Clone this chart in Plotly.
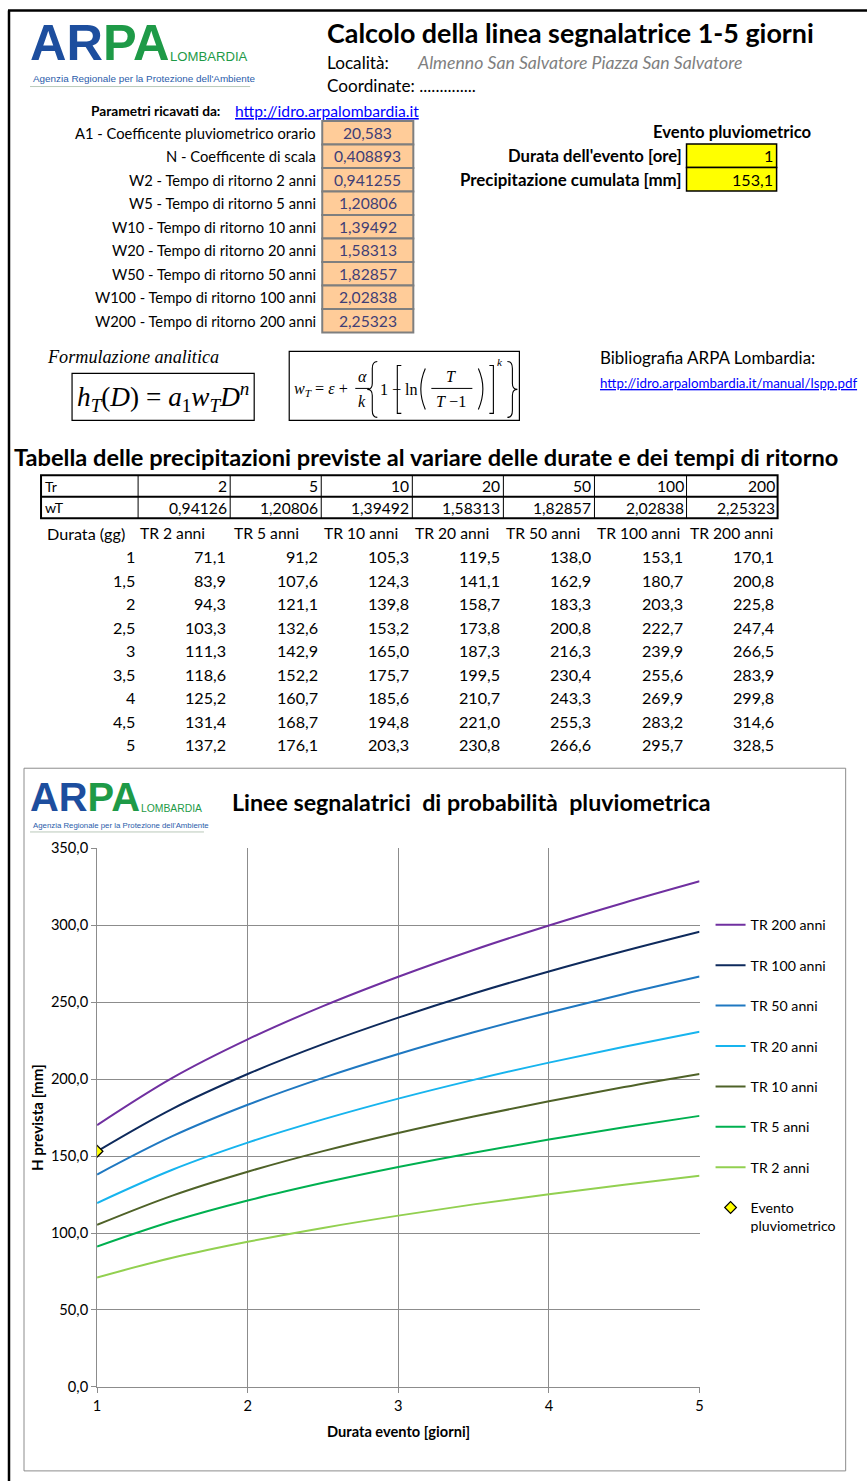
import plotly.graph_objects as go

W, H = 867, 1481
# measured capture mapping (page px -> picture px): out = S*page + O
SX, OX = 0.990, 4.0
SY, OY = 0.989, 8.4
FS = 1 / 0.99

# ---------------- DATA ----------------
durations = [1, 1.5, 2, 2.5, 3, 3.5, 4, 4.5, 5]
tr_years = [2, 5, 10, 20, 50, 100, 200]
wt_values = [0.94126, 1.20806, 1.39492, 1.58313, 1.82857, 2.02838, 2.25323]
h_tr2 = [71.1, 83.9, 94.3, 103.3, 111.3, 118.6, 125.2, 131.4, 137.2]
h_tr5 = [91.2, 107.6, 121.1, 132.6, 142.9, 152.2, 160.7, 168.7, 176.1]
h_tr10 = [105.3, 124.3, 139.8, 153.2, 165.0, 175.7, 185.6, 194.8, 203.3]
h_tr20 = [119.5, 141.1, 158.7, 173.8, 187.3, 199.5, 210.7, 221.0, 230.8]
h_tr50 = [138.0, 162.9, 183.3, 200.8, 216.3, 230.4, 243.3, 255.3, 266.6]
h_tr100 = [153.1, 180.7, 203.3, 222.7, 239.9, 255.6, 269.9, 283.2, 295.7]
h_tr200 = [170.1, 200.8, 225.8, 247.4, 266.5, 283.9, 299.8, 314.6, 328.5]
series_names = ["TR 200 anni", "TR 100 anni", "TR 50 anni", "TR 20 anni",
                "TR 10 anni", "TR 5 anni", "TR 2 anni"]
series_values = [h_tr200, h_tr100, h_tr50, h_tr20, h_tr10, h_tr5, h_tr2]
series_colors = ["#7030A0", "#0E2A5C", "#1F78C1", "#17B4EE",
                 "#4F6228", "#00B050", "#92D050"]

param_labels = ["A1 - Coefficente pluviometrico orario", "N - Coefficente di scala",
                "W2 - Tempo di ritorno 2 anni", "W5 - Tempo di ritorno 5 anni",
                "W10 - Tempo di ritorno 10 anni", "W20 - Tempo di ritorno 20 anni",
                "W50 - Tempo di ritorno 50 anni", "W100 - Tempo di ritorno 100 anni",
                "W200 - Tempo di ritorno 200 anni"]
param_values = ["20,583", "0,408893", "0,941255", "1,20806", "1,39492",
                "1,58313", "1,82857", "2,02838", "2,25323"]

event_duration = [1]
event_precip = [153.1]

y_ticks = [0, 50, 100, 150, 200, 250, 300, 350]
x_ticks = [1, 2, 3, 4, 5]

FONT = "Lato"
SERIF = "Liberation Serif"


def px(x):
    return ((x - OX) / SX) / W


def py(y):
    return 1 - ((y - OY) / SY) / H


def fmt(v, d=1):
    return f"{v:.{d}f}".replace(".", ",")


def fmtg(v):
    return f"{v:g}".replace(".", ",")


fig = go.Figure()

for name, vals, col in zip(series_names, series_values, series_colors):
    fig.add_trace(go.Scatter(x=durations, y=vals, mode="lines", name=name,
                             legendgroup=name,
                             line=dict(color=col, width=2, shape="spline"),
                             hoverinfo="skip"))

fig.add_trace(go.Scatter(x=event_duration, y=event_precip, mode="markers",
                         name="Evento<br>pluviometrico", legendgroup="ev",
                         marker=dict(symbol="diamond", size=9, color="#FFFF00",
                                     line=dict(color="#000000", width=1.2))))

annotations = []
shapes = []


def text(x, y, t, size=14, anchor="left", color="#000000", family=FONT, bold=False,
         italic=False, angle=0, yanchor="middle"):
    if bold:
        t = f"<b>{t}</b>"
    if italic:
        t = f"<i>{t}</i>"
    annotations.append(dict(x=px(x), y=py(y), xref="paper", yref="paper", text=t,
                            showarrow=False, xanchor=anchor, yanchor=yanchor,
                            textangle=angle,
                            font=dict(size=size * FS, color=color, family=family)))


def rect(x0, y0, x1, y1, line="#000000", lw=1, fill=None, layer="below"):
    shapes.append(dict(type="rect", xref="paper", yref="paper",
                       x0=px(x0), x1=px(x1), y0=py(y0), y1=py(y1),
                       line=dict(color=line, width=lw),
                       fillcolor=fill if fill else "rgba(0,0,0,0)", layer=layer))


def line(x0, y0, x1, y1, color="#000000", lw=1, layer="above"):
    shapes.append(dict(type="line", xref="paper", yref="paper",
                       x0=px(x0), x1=px(x1), y0=py(y0), y1=py(y1),
                       line=dict(color=color, width=lw), layer=layer))


def path(cmds, lw=1.1, color="#000000"):
    parts = []
    for c in cmds:
        op = c[0]
        pts = " ".join(f"{px(p[0]):.5f},{py(p[1]):.5f}" for p in c[1:])
        parts.append(f"{op} {pts}")
    shapes.append(dict(type="path", xref="paper", yref="paper", path=" ".join(parts),
                       line=dict(color=color, width=lw)))


# page border
line(8, 10, W + 10, 10, lw=2.5)
line(9, 10, 9, H + 10, lw=2.5)


# ---------------- LOGOS ----------------
def logo(x, y, scale):
    text(x - 2, y, "<span style='color:#1D4E9E'>AR</span><span style='color:#1E9A47'>PA</span>",
         size=50 * scale, family="Liberation Sans", bold=True)
    text(x + 138 * scale, y + 14 * scale, "LOMBARDIA", size=13 * scale,
         color="#1E9A47", family="Liberation Sans")
    text(x + 1, y + 36 * scale, "Agenzia Regionale per la Protezione dell'Ambiente",
         size=9.8 * scale, color="#2A5CAA", family="Liberation Sans")
    line(x, y + 44 * scale, x + 220 * scale, y + 44 * scale, color="#B9C9B9", lw=1)


logo(30, 42, 1.0)
logo(30, 797, 0.79)

# ---------------- HEADER ----------------
text(325, 32, "Calcolo della linea segnalatrice 1-5 giorni", size=26.6, bold=True)
text(325, 62, "Località:", size=17)
text(415, 62, "Almenno San Salvatore Piazza San Salvatore", size=17.5, italic=True,
     color="#7F7F7F")
text(325, 85, "Coordinate: ..............", size=17)

# ---------------- PARAMETERS ----------------
text(222, 110, "Parametri ricavati da:", size=13.6, bold=True, anchor="right")
text(233, 110, "<u>http://idro.arpalombardia.it</u>", size=15.5, color="#0000FF")
row_y0 = 120.5
row_h = 23.5
for i, (lab, val) in enumerate(zip(param_labels, param_values)):
    yc = row_y0 + row_h * i + row_h / 2
    rect(322, row_y0 + row_h * i, 413, row_y0 + row_h * (i + 1), line="#7F7F7F", lw=2,
         fill="#FFCC99")
    text(318, yc, lab, size=14.6, anchor="right")
    text(367.5, yc, val, size=15.5, anchor="center", color="#3F3F76")

# ---------------- EVENT ----------------
text(732, 131, "Evento pluviometrico", size=16.5, bold=True, anchor="center")
text(683, 155, "Durata dell'evento [ore]", size=16.5, bold=True, anchor="right")
text(683, 179, "Precipitazione cumulata [mm]", size=16.7, bold=True, anchor="right")
rect(686, 143.5, 776, 167, line="#000000", lw=1.5, fill="#FFFF00")
rect(686, 167, 776, 190.5, line="#000000", lw=1.5, fill="#FFFF00")
text(774, 155, fmtg(event_duration[0]), size=16, anchor="right")
text(774, 179, fmt(event_precip[0]), size=16, anchor="right")

# ---------------- FORMULAS ----------------
text(45, 357, "Formulazione analitica", size=18, italic=True, family=SERIF)
rect(72, 373, 254, 420, lw=1.2)
text(163, 397, "<i>h</i><sub><i>T</i></sub>(<i>D</i>) = <i>a</i><sub>1</sub><i>w</i>"
     "<sub><i>T</i></sub><i>D</i><sup><i>n</i></sup>", size=27, anchor="center",
     family=SERIF)
rect(289, 351, 519, 420, lw=1.2)
text(292, 389, "<i>w</i><sub><i>T</i></sub> = <i>ε</i> +", size=16, family=SERIF)
text(362, 376, "<i>α</i>", size=16, anchor="center", family=SERIF)
line(355, 388, 369, 388, lw=1)
text(362, 401, "<i>k</i>", size=16, anchor="center", family=SERIF)
path([("M", (377, 361)), ("Q", (372, 361), (372, 368)), ("L", (372, 383)),
      ("Q", (372, 389), (367, 389)), ("Q", (372, 389), (372, 395)),
      ("L", (372, 410)), ("Q", (372, 417), (377, 417))])
text(378, 389, "1 −", size=16, family=SERIF)
path([("M", (401, 365)), ("L", (397, 365)), ("L", (397, 413)), ("L", (401, 413))])
text(403, 389, "ln", size=16, family=SERIF)
path([("M", (425, 368)), ("Q", (416, 388.5), (425, 409))])
text(451, 376, "<i>T</i>", size=16, anchor="center", family=SERIF)
line(431, 388, 472, 388, lw=1)
text(451, 401, "<i>T</i> −1", size=16, anchor="center", family=SERIF)
path([("M", (478, 368)), ("Q", (487, 388.5), (478, 409))])
path([("M", (489, 365)), ("L", (493, 365)), ("L", (493, 413)), ("L", (489, 413))])
text(500, 362, "<i>k</i>", size=11, anchor="center", family=SERIF)
path([("M", (507, 361)), ("Q", (512, 361), (512, 368)), ("L", (512, 383)),
      ("Q", (512, 389), (517, 389)), ("Q", (512, 389), (512, 395)),
      ("L", (512, 410)), ("Q", (512, 417), (507, 417))])

text(598, 357, "Bibliografia ARPA Lombardia:", size=16.8)
text(598, 383, "<u>http://idro.arpalombardia.it/manual/lspp.pdf</u>", size=13.2,
     color="#0000FF")

# ---------------- TABLE ----------------
text(12, 457, "Tabella delle precipitazioni previste al variare delle durate e dei tempi di ritorno",
     size=23.4, bold=True)
col_edges = [41, 138, 230, 321, 412, 503, 594, 686, 777]
t_top, t_mid, t_bot = 475, 496.5, 518
for xe in col_edges[1:-1]:
    line(xe, t_top, xe, t_bot, lw=1)
line(col_edges[0], t_mid, col_edges[-1], t_mid, lw=2)
rect(col_edges[0], t_top, col_edges[-1], t_bot, lw=2)
text(col_edges[0] + 2, (t_top + t_mid) / 2, "Tr", size=14)
text(col_edges[0] + 2, (t_mid + t_bot) / 2, "wT", size=14)
for j, (trv, wv) in enumerate(zip(tr_years, wt_values)):
    xr = col_edges[j + 2] - 1
    text(xr, (t_top + t_mid) / 2, str(trv), size=15.5, anchor="right")
    text(xr, (t_mid + t_bot) / 2, fmt(wv, 5), size=15.5, anchor="right")

text(45, 533, "Durata (gg)", size=16)
head_centers = [172, 266, 361, 452, 543, 638, 731]
for j, trv in enumerate(tr_years):
    text(head_centers[j], 533, f"TR {trv} anni", size=15.5, anchor="center")

val_right = [228, 320, 411, 502, 593, 684, 775]
tab_series = [h_tr2, h_tr5, h_tr10, h_tr20, h_tr50, h_tr100, h_tr200]
for i, d in enumerate(durations):
    yc = 556.5 + 23.5 * i
    text(137, yc, fmtg(d), size=16, anchor="right")
    for j, s in enumerate(tab_series):
        text(val_right[j], yc, fmt(s[i]), size=16, anchor="right")

# ---------------- CHART ----------------
rect(24, 768, 845, 1471, line="#8C8C8C", lw=1)
text(230, 802, "Linee segnalatrici  di probabilità  pluviometrica", size=23, bold=True)
text(37, 1118, "H prevista [mm]", size=15, bold=True, anchor="center", angle=-90)
text(398, 1432, "Durata evento [giorni]", size=14.5, bold=True, anchor="center")

fig.update_layout(
    width=W, height=H,
    margin=dict(l=0, r=0, t=0, b=0),
    paper_bgcolor="#FFFFFF", plot_bgcolor="#FFFFFF",
    separators=",.",
    showlegend=True,
    legend=dict(x=px(710), y=py(909), xanchor="left", yanchor="top",
                font=dict(family=FONT, size=14 * FS, color="#000000"),
                tracegroupgap=19, valign="top", bgcolor="rgba(0,0,0,0)"),
    xaxis=dict(domain=[px(97), px(699)], range=[1, 5], tickvals=x_ticks,
               showgrid=True, gridcolor="#8C8C8C", gridwidth=1,
               showline=True, linecolor="#8C8C8C", ticks="outside", ticklen=5,
               tickcolor="#8C8C8C", zeroline=False,
               tickfont=dict(family=FONT, size=14.5 * FS, color="#000000")),
    yaxis=dict(domain=[py(1387), py(848)], range=[0, 350], tickvals=y_ticks,
               tickformat=".1f", showgrid=True, gridcolor="#8C8C8C", gridwidth=1,
               showline=True, linecolor="#8C8C8C", ticks="outside", ticklen=5,
               tickcolor="#8C8C8C", zeroline=False,
               tickfont=dict(family=FONT, size=14.5 * FS, color="#000000")),
    annotations=annotations,
    shapes=shapes,
    font=dict(family=FONT),
)

fig.write_html("out.html", config={"displayModeBar": False},
               post_script="document.body.style.margin='0';document.body.style.padding='0';"
                           "document.documentElement.style.margin='0';")
